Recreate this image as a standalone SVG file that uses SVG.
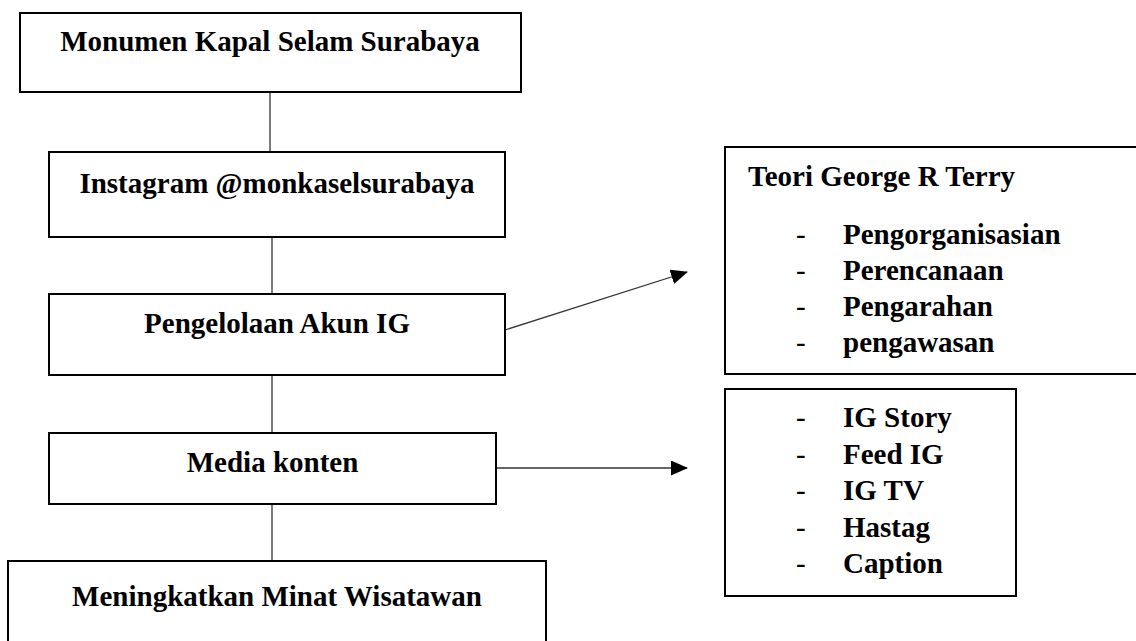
<svg xmlns="http://www.w3.org/2000/svg" width="1136" height="641" viewBox="0 0 1136 641">
<style>
.box{fill:#fff;stroke:#000;stroke-width:2}
.t{font-family:"Liberation Serif","Times New Roman",serif;font-weight:bold;font-size:29px;fill:#000}
.d{font-family:"Liberation Serif","Times New Roman",serif;font-size:29px;fill:#000}
.c{text-anchor:middle}
.ln{stroke:#333;stroke-width:1.3;fill:none}
</style>
<defs>
<marker id="ah" markerUnits="userSpaceOnUse" markerWidth="17" markerHeight="15" refX="16" refY="7.5" orient="auto">
<path d="M0,0 L17,7.5 L0,15 z" fill="#000"/>
</marker>
</defs>
<rect width="1136" height="641" fill="#fff"/>
<g id="connectors">
<line class="ln" x1="270" y1="92" x2="270" y2="152"/>
<line class="ln" x1="272" y1="237" x2="272" y2="294"/>
<line class="ln" x1="272" y1="375" x2="272" y2="433"/>
<line class="ln" x1="272" y1="504" x2="272" y2="561"/>
<line class="ln" x1="505" y1="330" x2="687" y2="272" marker-end="url(#ah)"/>
<line class="ln" x1="496" y1="468" x2="687" y2="468" marker-end="url(#ah)"/>
</g>
<g id="n1">
<rect class="box" x="20" y="13" width="501" height="79"/>
<text class="t c" x="270" y="51">Monumen Kapal Selam Surabaya</text>
</g>
<g id="n2">
<rect class="box" x="49" y="152" width="456" height="85"/>
<text class="t c" x="277" y="193">Instagram @monkaselsurabaya</text>
</g>
<g id="n3">
<rect class="box" x="49" y="294" width="456" height="81"/>
<text class="t c" x="277" y="333">Pengelolaan Akun IG</text>
</g>
<g id="n4">
<rect class="box" x="49" y="433" width="447" height="71"/>
<text class="t c" x="272.5" y="472">Media konten</text>
</g>
<g id="n5">
<rect class="box" x="8" y="561" width="538" height="100"/>
<text class="t c" x="277" y="606">Meningkatkan Minat Wisatawan</text>
</g>
<g id="n6">
<rect class="box" x="725" y="147" width="420" height="227"/>
<text class="t" x="748" y="186">Teori George R Terry</text>
<text class="d" x="796" y="244">-</text><text class="t" x="843" y="244">Pengorganisasian</text>
<text class="d" x="796" y="280">-</text><text class="t" x="843" y="280">Perencanaan</text>
<text class="d" x="796" y="316">-</text><text class="t" x="843" y="316">Pengarahan</text>
<text class="d" x="796" y="352">-</text><text class="t" x="843" y="352">pengawasan</text>
</g>
<g id="n7">
<rect class="box" x="725" y="389" width="291" height="207"/>
<text class="d" x="796" y="427">-</text><text class="t" x="843" y="427">IG Story</text>
<text class="d" x="796" y="463.5">-</text><text class="t" x="843" y="463.5">Feed IG</text>
<text class="d" x="796" y="500">-</text><text class="t" x="843" y="500">IG TV</text>
<text class="d" x="796" y="536.5">-</text><text class="t" x="843" y="536.5">Hastag</text>
<text class="d" x="796" y="573">-</text><text class="t" x="843" y="573">Caption</text>
</g>
</svg>
